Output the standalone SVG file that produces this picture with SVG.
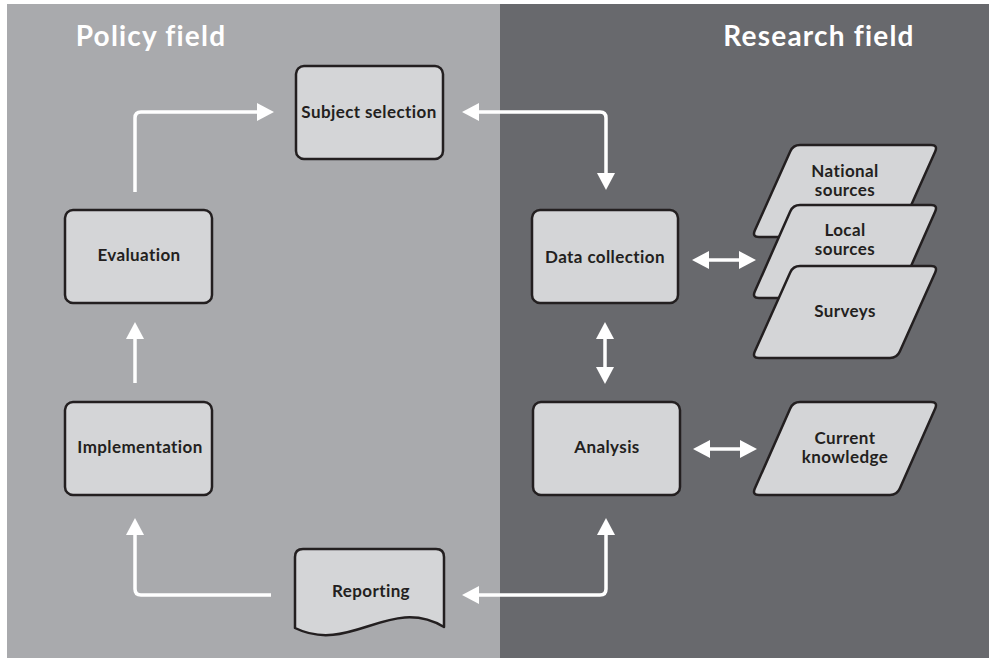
<svg xmlns="http://www.w3.org/2000/svg" width="989" height="658" viewBox="0 0 989 658">
<style>
.node{fill:#d4d5d7;stroke:#231f20;stroke-width:2.5;stroke-linejoin:round}
.lbl{font-family:Lato,"Liberation Sans",sans-serif;font-weight:bold;font-size:17px;fill:#231f20;text-anchor:middle;letter-spacing:0.4px}
.head{font-family:Lato,"Liberation Sans",sans-serif;font-weight:bold;font-size:28px;fill:#ffffff;text-anchor:middle;letter-spacing:1.2px}
.conn{fill:none;stroke:#ffffff;stroke-width:3.5}
</style>
<defs>
<marker id="ah" viewBox="0 0 17 18" refX="0" refY="9" markerWidth="17" markerHeight="18" markerUnits="userSpaceOnUse" orient="auto-start-reverse">
<path d="M0,0 L17,9 L0,18 Z" fill="#ffffff"/>
</marker>
</defs>
<rect x="0" y="0" width="989" height="658" fill="#ffffff"/>
<rect id="policy-panel" x="7" y="4" width="493" height="654" fill="#a9aaad"/>
<rect id="research-panel" x="500" y="4" width="489" height="654" fill="#68696d"/>
<text class="head" x="151" y="46">Policy field</text>
<text class="head" x="819" y="46">Research field</text>

<g id="connectors">
<path class="conn" d="M135,192 V118 Q135,112 141,112 H257" marker-end="url(#ah)"/>
<path class="conn" d="M479,112 H600 Q606,112 606,118 V173" marker-start="url(#ah)" marker-end="url(#ah)"/>
<path class="conn" d="M709,260 H739" marker-start="url(#ah)" marker-end="url(#ah)"/>
<path class="conn" d="M605,339 V367" marker-start="url(#ah)" marker-end="url(#ah)"/>
<path class="conn" d="M710,449 H740" marker-start="url(#ah)" marker-end="url(#ah)"/>
<path class="conn" d="M479,595 H600 Q606,595 606,589 V535" marker-start="url(#ah)" marker-end="url(#ah)"/>
<path class="conn" d="M271,595 H141 Q135,595 135,589 V535" marker-end="url(#ah)"/>
<path class="conn" d="M135,383 V339" marker-end="url(#ah)"/>
</g>

<g id="subject-selection">
<rect class="node" x="296" y="66" width="147" height="93" rx="8"/>
<text class="lbl" x="369" y="118">Subject selection</text>
</g>
<g id="evaluation">
<rect class="node" x="65" y="210" width="147" height="93" rx="8"/>
<text class="lbl" x="139" y="261">Evaluation</text>
</g>
<g id="implementation">
<rect class="node" x="65" y="402" width="147" height="93" rx="8"/>
<text class="lbl" x="140" y="453">Implementation</text>
</g>
<g id="data-collection">
<rect class="node" x="532" y="210" width="146" height="93" rx="8"/>
<text class="lbl" x="605" y="263">Data collection</text>
</g>
<g id="analysis">
<rect class="node" x="533" y="402" width="147" height="93" rx="8"/>
<text class="lbl" x="607" y="453">Analysis</text>
</g>
<g id="reporting">
<path class="node" d="M303,549 H436 Q444,549 444,557 V627 C390,595 350,655 295,628 V557 Q295,549 303,549 Z"/>
<text class="lbl" x="371" y="597">Reporting</text>
</g>
<g id="national-sources">
<path class="node" d="M759,237 H890 Q897,237 899.8,230.6 L935.2,151.4 Q938,145 931,145 H800 Q793,145 790.2,151.4 L754.8,230.6 Q752,237 759,237 Z"/>
<text class="lbl" x="845" y="177">National</text>
<text class="lbl" x="845" y="196">sources</text>
</g>
<g id="local-sources">
<path class="node" d="M759,298 H890 Q897,298 899.8,291.6 L935.2,211.4 Q938,205 931,205 H800 Q793,205 790.2,211.4 L754.8,291.6 Q752,298 759,298 Z"/>
<text class="lbl" x="845" y="236">Local</text>
<text class="lbl" x="845" y="255">sources</text>
</g>
<g id="surveys">
<path class="node" d="M759,358 H890 Q897,358 899.8,351.6 L935.2,272.4 Q938,266 931,266 H800 Q793,266 790.2,272.4 L754.8,351.6 Q752,358 759,358 Z"/>
<text class="lbl" x="845" y="317">Surveys</text>
</g>
<g id="current-knowledge">
<path class="node" d="M759,495 H890 Q897,495 899.8,488.6 L935.2,408.4 Q938,402 931,402 H800 Q793,402 790.2,408.4 L754.8,488.6 Q752,495 759,495 Z"/>
<text class="lbl" x="845" y="444">Current</text>
<text class="lbl" x="845" y="463">knowledge</text>
</g>
</svg>
